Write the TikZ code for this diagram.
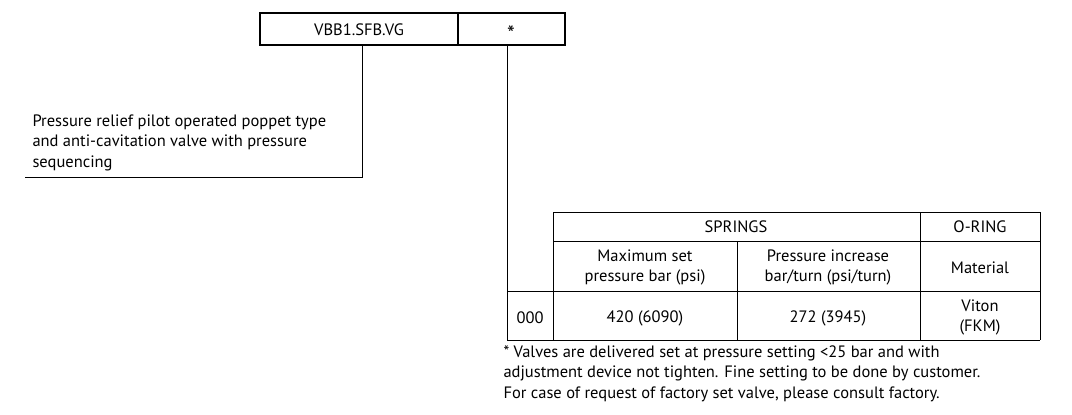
\documentclass[tikz,border=0pt]{standalone}
\usepackage{fontspec}
\setmainfont{PT Sans}
\begin{document}
\begin{tikzpicture}[x=1pt,y=-1pt,line width=1pt,
  txt/.style={font=\fontsize{16.5}{20}\selectfont,align=center,inner sep=0pt},
  ltxt/.style={font=\fontsize{16.5}{20.5}\selectfont,align=left,inner sep=0pt,anchor=north west}]
\useasboundingbox (0,0) rectangle (1072,415);
\draw[line width=2pt] (260,13) rectangle (565,45);
\draw[line width=2pt] (458,13) -- (458,45);
\node[txt] (code) at (359,30) {VBB1.SFB.VG};
\node[txt,font=\fontsize{22}{24}\selectfont] (star) at (511,34) {*};
\coordinate (c1) at (362,45);
\coordinate (c2) at (362,177);
\coordinate (c3) at (25,177);
\draw (c1) -- (c2) -- (c3);
\node[ltxt] (desc) at (32,114) {Pressure relief pilot operated poppet type\\and anti-cavitation valve with pressure\\sequencing};
% table
\coordinate (s1) at (507,45);
\coordinate (s2) at (507,340);
\draw (s1) -- (s2);
\draw (553,212) -- (1040,212);
\draw (553,241) -- (1040,241);
\draw (507,291) -- (1040,291);
\draw (507,340) -- (1040,340);
\draw (553,212) -- (553,340);
\draw (737,241) -- (737,340);
\draw (920,212) -- (920,340);
\draw (1040,212) -- (1040,340);
\node[txt] (spr) at (736,227) {SPRINGS};
\node[txt] (oring) at (980,227) {O-RING};
\node[txt] (h1) at (645,267) {Maximum set\\pressure bar (psi)};
\node[txt] (h2) at (828,267) {Pressure increase\\bar/turn (psi/turn)};
\node[txt] (h3) at (980,268) {Material};
\node[txt] (r0) at (530,318) {000};
\node[txt] (r1) at (645,318) {420 (6090)};
\node[txt] (r2) at (828,318) {272 (3945)};
\node[txt] (r3) at (980,317) {Viton\\(FKM)};
\node[ltxt] (note) at (503,345) {* Valves are delivered set at pressure setting <25 bar and with\\adjustment device not tighten. Fine setting to be done by customer.\\For case of request of factory set valve, please consult factory.};
\end{tikzpicture}
\end{document}
